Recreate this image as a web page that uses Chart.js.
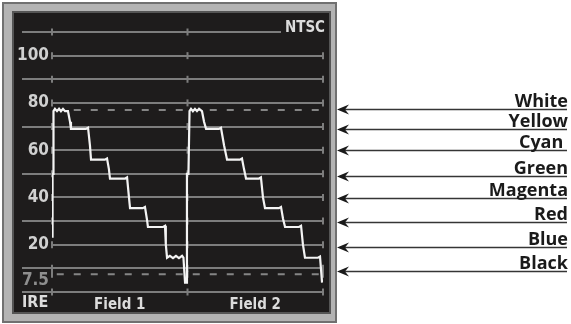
<!DOCTYPE html>
<html>
<head>
<meta charset="utf-8">
<script src="https://cdn.jsdelivr.net/npm/chart.js@4.4.1/dist/chart.umd.min.js"></script>
<style>
  body { margin: 0; background: #fff; }
  #wrap { width: 571px; height: 324px; }
</style>
</head>
<body>
<div id="wrap"><canvas id="chart1" width="571" height="324"></canvas></div>
<script>
// IRE scale (left)
var ireTicks  = [0, 7.5, 10, 20, 30, 40, 50, 60, 70, 80, 90, 100, 110];
var ireLabels = ['', '7.5', '', '20', '', '40', '', '60', '', '80', '', '100', ''];

// two fields side by side, 100 units each
var fieldTicks  = [50, 150];
var fieldLabels = ['Field 1', 'Field 2'];
var fieldEdges  = [0, 100, 200];

// dashed reference levels
var whiteLevel = 77;
var setupLevel = 7.5;

// the colour bar trace
var waveX = [0.4, 0.4, 1.1, 1.1, 2.2, 3.7, 5.2, 6.6, 8.1, 9.6, 11.8, 13.3, 14,
             25, 26.6, 28, 28.8, 39, 40.6, 42, 42.8, 54, 55.4, 56.8, 57.6,
             67, 68.6, 70, 70.8, 82, 83.4, 84, 84.9, 87, 89.3, 91.5, 93.7, 96, 97,
             98.2, 99.3,
             99.6, 100.7, 101.5, 102.6, 104, 105.5, 107, 108.5, 110.7, 112.2, 113.7,
             123.2, 124.7, 127, 129.2, 138.7, 140.2, 141.7, 143.2, 152.8, 154.2, 155.7, 157.2,
             167.5, 169, 170.5, 172, 182.3, 183.8, 185.2, 186.7, 196.3, 197.8, 199.3];
var waveY = [23, 50, 50, 76.5, 77.5, 76.5, 77.5, 76.5, 77.5, 76.5, 76.5, 72, 69,
             69, 69.5, 62, 56, 56, 56.5, 52, 48, 48, 48.5, 40, 35.5,
             35.5, 36, 31, 27.5, 27.5, 28, 20, 14.5, 15.3, 14.3, 15.3, 14.3, 15.3, 14.5,
             4, 4,
             50, 50, 76.5, 77.5, 76.5, 77.5, 76.5, 77.5, 76.5, 72, 69,
             69, 69.5, 62, 56, 56, 56.5, 52, 48, 48, 48.5, 40, 35.5,
             35.5, 36, 31, 27.5, 27.5, 28, 20, 14.5, 14.5, 15, 4];

// callouts on the right
var barNames  = ['White', 'Yellow', 'Cyan ', 'Green', 'Magenta', 'Red', 'Blue', 'Black'];
var barArrows = [77.3, 68.8, 60.1, 49.1, 39.6, 29.7, 19.2, 9];

var gridGray = '#7d7d7d';
var condensed = '"DejaVu Sans Condensed", "Liberation Sans Narrow", "DejaVu Sans", sans-serif';

var points = [];
for (var i = 0; i < waveX.length; i++) {
    points.push({x: waveX[i], y: waveY[i]});
}

function ireLabel(v) {
    var k = ireTicks.indexOf(v);
    return k < 0 ? '' : ireLabels[k];
}

var decor = {
    id: 'decor',
    beforeDraw: function (chart) {
        var ctx = chart.ctx;
        ctx.save();
        ctx.fillStyle = '#fff';
        ctx.fillRect(0, 0, chart.width, chart.height);
        // monitor bezel
        ctx.fillStyle = '#707070';
        ctx.fillRect(2, 2, 335, 321);
        ctx.fillStyle = '#b3b3b3';
        ctx.fillRect(4, 4, 331, 317);
        ctx.fillStyle = '#555';
        ctx.fillRect(12, 11, 319, 303);
        ctx.fillStyle = '#1e1c1c';
        ctx.fillRect(14, 13, 315, 299);
        ctx.restore();
    },
    beforeDatasetsDraw: function (chart) {
        var ctx = chart.ctx;
        var xs = chart.scales.x, ys = chart.scales.y;
        ctx.save();
        // small vertical ticks where the field edges cross the graticule
        ctx.strokeStyle = gridGray;
        ctx.lineWidth = 2;
        ireTicks.forEach(function (v) {
            var py = ys.getPixelForValue(v);
            fieldEdges.forEach(function (e) {
                if (v === 110 && e === 200) return;
                var px = xs.getPixelForValue(e);
                ctx.beginPath();
                ctx.moveTo(px, py - 3.5);
                ctx.lineTo(px, py + 3.5);
                ctx.stroke();
            });
        });
        // NTSC tag over the top line
        var ty = ys.getPixelForValue(110);
        ctx.fillStyle = '#1e1c1c';
        ctx.fillRect(281, ty - 10, 47, 18);
        ctx.fillStyle = '#dcdcdc';
        ctx.font = 'bold 15px ' + condensed;
        ctx.textAlign = 'right';
        ctx.textBaseline = 'middle';
        ctx.fillText('NTSC', 325, ty - 4);
        ctx.textAlign = 'left';
        ctx.font = 'bold 16px ' + condensed;
        ctx.fillText('IRE', 22, 303);
        ctx.restore();
    },
    afterDraw: function (chart) {
        var ctx = chart.ctx;
        var ys = chart.scales.y;
        ctx.save();
        ctx.strokeStyle = '#353535';
        ctx.fillStyle = '#1a1a1a';
        ctx.lineWidth = 1.7;
        ctx.font = 'bold 18px "Open Sans", "Noto Sans", sans-serif';
        ctx.textAlign = 'right';
        ctx.textBaseline = 'alphabetic';
        for (var i = 0; i < barNames.length; i++) {
            var y = Math.round(ys.getPixelForValue(barArrows[i])) + 0.5;
            ctx.beginPath();
            ctx.moveTo(340, y);
            ctx.lineTo(567, y);
            ctx.stroke();
            ctx.beginPath();
            ctx.moveTo(337, y);
            ctx.lineTo(349, y - 5);
            ctx.lineTo(345, y);
            ctx.lineTo(349, y + 5);
            ctx.closePath();
            ctx.fill();
            ctx.fillText(barNames[i], 568, y - 3);
        }
        ctx.restore();
    }
};

new Chart(document.getElementById('chart1'), {
    type: 'line',
    data: {
        datasets: [
            {
                label: 'Waveform',
                data: points,
                borderColor: '#f4f4f4',
                borderWidth: 2.2,
                pointRadius: 0,
                tension: 0,
                order: 0
            },
            {
                label: 'White level',
                data: [{x: 3.5, y: whiteLevel}, {x: 200, y: whiteLevel}],
                borderColor: '#858585',
                borderWidth: 2,
                borderDash: [7, 10],
                pointRadius: 0,
                order: 1
            },
            {
                label: 'Setup',
                data: [{x: 3.5, y: setupLevel}, {x: 200, y: setupLevel}],
                borderColor: '#858585',
                borderWidth: 2,
                borderDash: [7, 10],
                pointRadius: 0,
                order: 1
            }
        ]
    },
    options: {
        responsive: false,
        animation: false,
        layout: {padding: {top: 32, right: 248, bottom: 0, left: 0}},
        plugins: {legend: {display: false}, tooltip: {enabled: false}},
        scales: {
            x: {
                type: 'linear',
                min: 0,
                max: 200,
                afterBuildTicks: function (s) {
                    s.ticks = fieldTicks.map(function (v) { return {value: v}; });
                },
                afterFit: function (s) { s.height = 32; },
                grid: {display: false},
                border: {display: false},
                ticks: {
                    padding: -4,
                    color: '#dcdcdc',
                    font: {family: condensed, size: 15, weight: 'bold'},
                    callback: function (v) { return fieldLabels[fieldTicks.indexOf(v)]; }
                }
            },
            y: {
                min: 0,
                max: 110,
                afterBuildTicks: function (s) {
                    s.ticks = ireTicks.map(function (v) { return {value: v}; });
                },
                afterFit: function (s) { s.width = 52; },
                border: {display: false},
                grid: {
                    lineWidth: 2,
                    tickLength: 30,
                    color: function (c) {
                        return c.tick && c.tick.value === setupLevel ? 'rgba(0,0,0,0)' : gridGray;
                    },
                    tickColor: function (c) {
                        return c.tick && ireLabel(c.tick.value) ? 'rgba(0,0,0,0)' : gridGray;
                    }
                },
                ticks: {
                    autoSkip: false,
                    padding: -27,
                    color: function (c) {
                        return c.tick && c.tick.value === setupLevel ? '#8e8e8e' : '#d0d0d0';
                    },
                    font: function (c) {
                        var low = c.tick && c.tick.value === setupLevel;
                        return {family: condensed, size: 17, weight: 'bold', lineHeight: low ? 0.75 : 1.2};
                    },
                    callback: function (v) {
                        var t = ireLabel(v);
                        return v === setupLevel ? ['', t] : t;
                    }
                }
            }
        }
    },
    plugins: [decor]
});
</script>
</body>
</html>
